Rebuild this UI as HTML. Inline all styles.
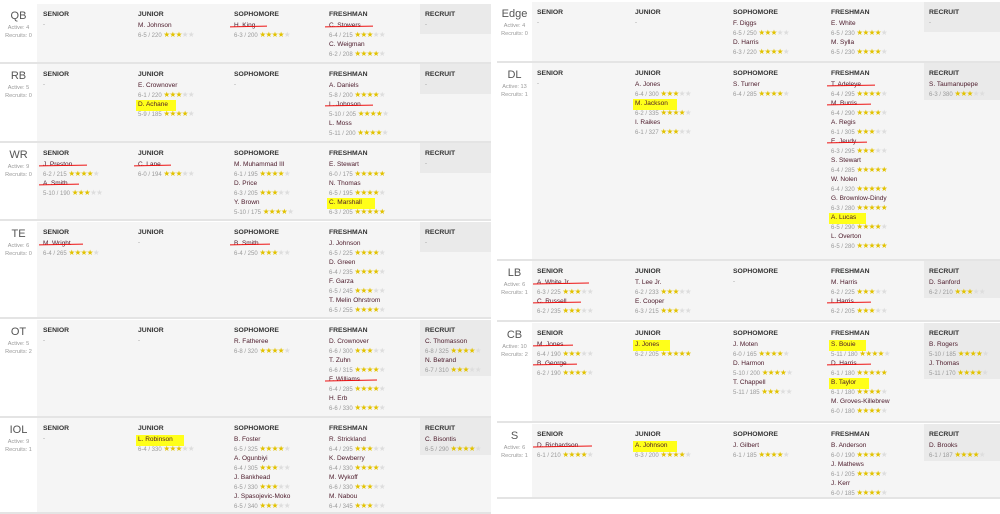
<!DOCTYPE html>
<html><head><meta charset="utf-8"><style>
body{margin:0;width:1000px;height:509px;background:#fff;position:relative;overflow:hidden;font-family:"Liberation Sans",sans-serif}
.a{position:absolute;white-space:nowrap}
.bg{position:absolute;background:#f5f5f5}
.rb{position:absolute;background:#eaeaea}
.dv{position:absolute;height:2px;background:#e4e4e4}
.h{font-size:6.8px;font-weight:bold;color:#333}
.n{font-size:6.5px;color:#4a1828}
.s{font-size:6px;color:#9a9a9a}
.g{color:#e2c200;font-size:7.5px;letter-spacing:-0.6px}
.e{color:#ddd}
.pl{font-size:11px;color:#555;text-align:center}
.pc{font-size:5.6px;color:#999;text-align:center;line-height:8px}
.st{position:absolute;height:1.3px;background:#e11;transform:rotate(-1deg)}
.hl{position:absolute;background:#ffff1a}
</style></head><body>
<div id="r"></div>
<script>
var out='';
function A(x,y,cls,t,st){out+='<div class="a '+cls+'" style="left:'+x+'px;top:'+y+'px;'+(st||'')+'">'+t+'</div>';}
function stars(k,tot){tot=tot||5;return '<span class="g">'+'★'.repeat(k)+'<span class="e">'+'★'.repeat(tot-k)+'</span></span>';}
function sec(P,top,bot,lab,act,rec,cols){
  var L=P.left;
  out+='<div class="bg" style="left:'+(L+P.lw)+'px;top:'+top+'px;width:'+(P.right-L-P.lw)+'px;height:'+(bot-top)+'px"></div>';
  var rl=cols[4].length;var rh=rl?(18+rl*19):30;
  out+='<div class="rb" style="left:'+(P.cx[4]-5)+'px;top:'+top+'px;width:'+(P.right-P.cx[4]+5)+'px;height:'+rh+'px"></div>';
  out+='<div class="dv" style="left:'+L+'px;top:'+(bot)+'px;width:'+(P.right-L)+'px"></div>';
  A(L,top+6,'pl',lab,'width:'+P.lw+'px');
  A(L,top+20,'pc','Active: '+act+'<br>Recruits: '+rec,'width:'+P.lw+'px');
  var hd=['SENIOR','JUNIOR','SOPHOMORE','FRESHMAN','RECRUIT'];
  for(var c=0;c<5;c++){
    var x=P.cx[c];A(x,top+7,'h',hd[c]);
    var pls=cols[c];
    if(!pls.length){A(x,top+18,'s','-');continue;}
    for(var i=0;i<pls.length;i++){
      var p=pls[i],y=top+18+i*19;
      if(p[3]=='h'){var w=p[0].length*3.6+8;out+='<div class="hl" style="left:'+(x-2)+'px;top:'+(y-1)+'px;width:'+w+'px;height:11px"></div>';}
      A(x,y,'n',p[0]);A(x,y+8,'s',p[1]+' '+stars(p[2]));
      if(p[3]=='s'){var w=p[0].length*3.8+10;out+='<div class="st" style="left:'+(x-4)+'px;top:'+(y+4)+'px;width:'+w+'px"></div>';}
    }
  }
}
var Lp={left:0,right:491,lw:37,cx:[43,138,234,329,425]};
var Rp={left:497,right:1000,lw:35,cx:[537,635,733,831,929]};
sec(Lp,4,62,'QB',4,0,[[],[['M. Johnson','6-5 / 220',3]],[['H. King','6-3 / 200',4,'s']],[['C. Stowers','6-4 / 215',3,'s'],['C. Weigman','6-2 / 208',4]],[]]);
sec(Lp,64,141,'RB',5,0,[[],[['E. Crownover','6-1 / 220',3],['D. Achane','5-9 / 185',4,'h']],[],[['A. Daniels','5-8 / 200',4],['L. Johnson','5-10 / 205',4,'s'],['L. Moss','5-11 / 200',4]],[]]);
sec(Lp,143,219,'WR',9,0,[[['J. Preston','6-2 / 215',4,'s'],['A. Smith','5-10 / 190',3,'s']],[['C. Lane','6-0 / 194',3,'s']],[['M. Muhammad III','6-1 / 195',4],['D. Price','6-3 / 205',3],['Y. Brown','5-10 / 175',4]],[['E. Stewart','6-0 / 175',5],['N. Thomas','6-5 / 195',4],['C. Marshall','6-3 / 205',5,'h']],[]]);
sec(Lp,222,317,'TE',6,0,[[['M. Wright','6-4 / 265',4,'s']],[],[['B. Smith','6-4 / 250',3,'s']],[['J. Johnson','6-5 / 225',4],['D. Green','6-4 / 235',4],['F. Garza','6-5 / 245',3],['T. Melin Ohrstrom','6-5 / 255',4]],[]]);
sec(Lp,320,416,'OT',5,2,[[],[],[['R. Fatheree','6-8 / 320',4]],[['D. Crownover','6-6 / 300',3],['T. Zuhn','6-6 / 315',4],['F. Williams','6-4 / 285',4,'s'],['H. Erb','6-6 / 330',4]],[['C. Thomasson','6-8 / 325',4],['N. Betrand','6-7 / 310',3]]]);
sec(Lp,418,512,'IOL',9,1,[[],[['L. Robinson','6-4 / 330',3,'h']],[['B. Foster','6-5 / 325',4],['A. Ogunbiyi','6-4 / 305',3],['J. Bankhead','6-5 / 330',3],['J. Spasojevic-Moko','6-5 / 340',3]],[['R. Strickland','6-4 / 295',3],['K. Dewberry','6-4 / 330',4],['M. Wykoff','6-6 / 330',3],['M. Nabou','6-4 / 345',3]],[['C. Bisontis','6-5 / 290',4]]]);
sec(Rp,2,61,'Edge',4,0,[[],[],[['F. Diggs','6-5 / 250',3],['D. Harris','6-3 / 220',4]],[['E. White','6-5 / 230',4],['M. Sylla','6-5 / 230',4]],[]]);
sec(Rp,63,259,'DL',13,1,[[],[['A. Jones','6-4 / 300',3],['M. Jackson','6-2 / 335',4,'h'],['I. Raikes','6-1 / 327',3]],[['S. Turner','6-4 / 285',4]],[['T. Adeleye','6-4 / 295',4,'s'],['M. Burris','6-4 / 290',4,'s'],['A. Regis','6-1 / 305',3],['E. Jeudy','6-3 / 295',3,'s'],['S. Stewart','6-4 / 285',5],['W. Nolen','6-4 / 320',5],['G. Brownlow-Dindy','6-3 / 280',5],['A. Lucas','6-5 / 290',4,'h'],['L. Overton','6-5 / 280',5]],[['S. Taumanupepe','6-3 / 380',3]]]);
sec(Rp,261,320,'LB',6,1,[[['A. White Jr.','6-3 / 225',3,'s'],['C. Russell','6-2 / 235',3,'s']],[['T. Lee Jr.','6-2 / 233',3],['E. Cooper','6-3 / 215',3]],[],[['M. Harris','6-2 / 225',3],['I. Harris','6-2 / 205',3,'s']],[['D. Sanford','6-2 / 210',3]]]);
sec(Rp,323,421,'CB',10,2,[[['M. Jones','6-4 / 190',3,'s'],['B. George','6-2 / 190',4,'s']],[['J. Jones','6-2 / 205',5,'h']],[['J. Moten','6-0 / 165',4],['D. Harmon','5-10 / 200',4],['T. Chappell','5-11 / 185',3]],[['S. Bouie','5-11 / 180',4,'h'],['D. Harris','6-1 / 180',5,'s'],['B. Taylor','6-1 / 180',4,'h'],['M. Groves-Killebrew','6-0 / 180',4]],[['B. Rogers','5-10 / 185',4],['J. Thomas','5-11 / 170',4]]]);
sec(Rp,424,497,'S',6,1,[[['D. Richardson','6-1 / 210',4,'s']],[['A. Johnson','6-3 / 200',4,'h']],[['J. Gilbert','6-1 / 185',4]],[['B. Anderson','6-0 / 190',4],['J. Mathews','6-1 / 205',4],['J. Kerr','6-0 / 185',4]],[['D. Brooks','6-1 / 187',4]]]);
document.getElementById('r').innerHTML=out;
</script>
</body></html>
